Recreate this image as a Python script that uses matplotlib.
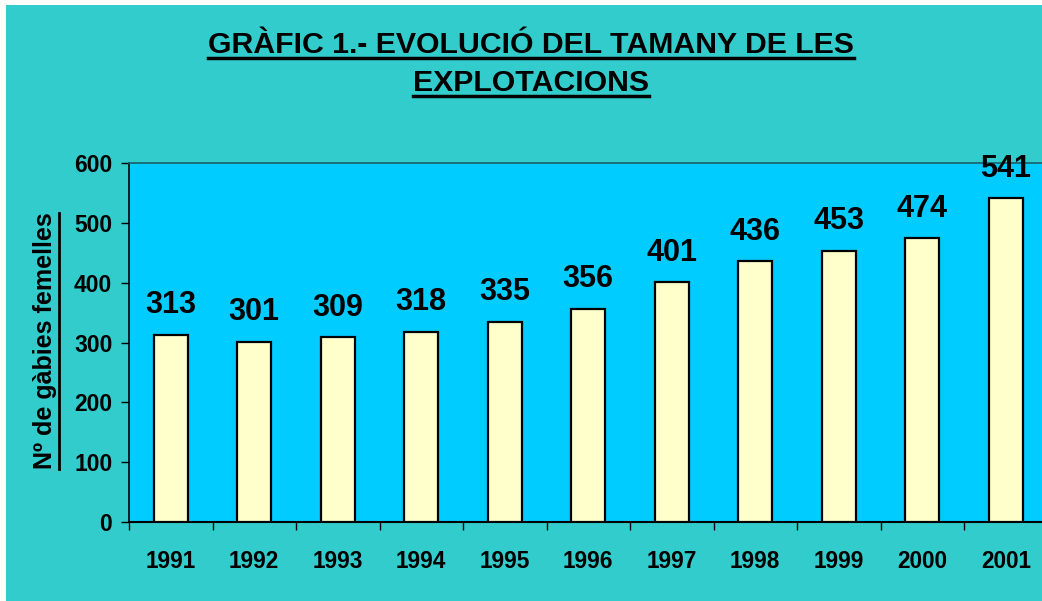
import matplotlib
matplotlib.use('Agg')
import matplotlib.pyplot as plt
from matplotlib.patches import Rectangle
from matplotlib.lines import Line2D

# Data
years = ['1991', '1992', '1993', '1994', '1995', '1996', '1997', '1998', '1999', '2000', '2001']
cages = [313, 301, 309, 318, 335, 356, 401, 436, 453, 474, 541]
y_ticks = [0, 100, 200, 300, 400, 500, 600]

plt.rcParams['font.family'] = ['Liberation Sans', 'DejaVu Sans']
plt.rcParams['font.weight'] = 'bold'

W, H = 1042, 601
fig = plt.figure(figsize=(W / 100, H / 100), dpi=100, facecolor='white')

# cyan chart area (white strip at left and top)
fig.patches.append(Rectangle((6 / W, 0), 1, 1 - 5 / H, transform=fig.transFigure,
                             facecolor='#33CCCC', edgecolor='none', zorder=-10))

# plot area
left, right, top, bottom = 129, 1047.5, 163, 522
ax = fig.add_axes([left / W, 1 - bottom / H, (right - left) / W, (bottom - top) / H])
ax.set_zorder(5)
ax.set_facecolor('#00CCFF')

x = range(len(years))
ax.bar(x, cages, width=0.41, color='#FFFFCC', edgecolor='black', linewidth=1.6, zorder=3)

for i, v in enumerate(cages):
    ax.annotate(str(v), (i, v), xytext=(0, 15.5), textcoords='offset points',
                ha='center', va='baseline', fontsize=22, fontweight='bold')

ax.set_xlim(-0.5, len(years) - 0.5)
ax.set_ylim(0, 600)
ax.set_yticks(y_ticks)
ax.set_yticklabels([str(t) for t in y_ticks], fontsize=16.5, fontweight='bold')
ax.set_xticks([i + 0.5 for i in range(-1, len(years))], minor=False)
ax.set_xticklabels([])
ax.set_xticks(list(x), minor=True)
ax.set_xticklabels(years, minor=True, fontsize=16.3, fontweight='bold')
ax.tick_params(axis='x', which='minor', length=0, pad=20)
ax.tick_params(axis='x', which='major', direction='out', length=6, width=1)
ax.tick_params(axis='y', direction='out', length=6, width=1, pad=6)

ax.spines['right'].set_visible(False)
ax.spines['top'].set_color('#1a5f6a')
ax.spines['top'].set_linewidth(1.2)
ax.spines['left'].set_linewidth(1.2)
ax.spines['bottom'].set_linewidth(1.5)

# title
t1 = fig.text(531 / W, 1 - 45 / H, 'GRÀFIC 1.- EVOLUCIÓ DEL TAMANY DE LES', ha='center', va='center',
              fontsize=21.8, fontweight='bold')
t2 = fig.text(531 / W, 1 - 83 / H, 'EXPLOTACIONS', ha='center', va='center',
              fontsize=21.8, fontweight='bold')
yl = fig.text(45 / W, 1 - 341 / H, 'Nº de gàbies femelles', ha='center', va='center',
              rotation=90, fontsize=18, fontweight='bold')

# underlines
fig.canvas.draw()
r = fig.canvas.get_renderer()
for t in (t1, t2):
    bb = t.get_window_extent(r)
    yy = bb.y0 + 1
    fig.add_artist(Line2D([bb.x0 / W, bb.x1 / W], [yy / H, yy / H], color='black', lw=2.5,
                          transform=fig.transFigure))
bb = yl.get_window_extent(r)
xx = bb.x1 + 2
fig.add_artist(Line2D([xx / W, xx / W], [bb.y0 / H, bb.y1 / H], color='black', lw=2,
                      transform=fig.transFigure))

fig.savefig('out.png', dpi=100, facecolor='white')
